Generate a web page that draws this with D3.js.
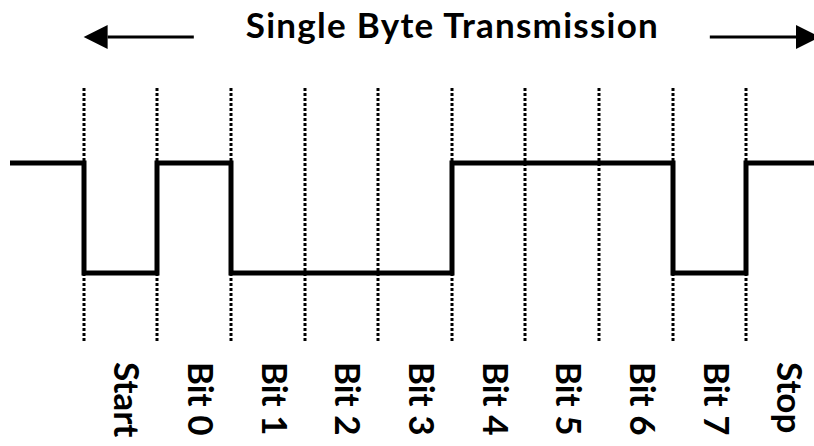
<!DOCTYPE html>
<html>
<head>
<meta charset="utf-8">
<script src="https://cdn.jsdelivr.net/npm/d3@7"></script>
<style>
  body { margin: 0; background: #fff; }
  text { font-family: Lato, "Open Sans", sans-serif; font-weight: bold; fill: #000; }
</style>
</head>
<body>
<div id="chart-area"></div>
<script>
const WIDTH = 814;
const HEIGHT = 446;

// one slot per bit time, in the order they go on the wire
const slotLabels = ["Start", "Bit 0", "Bit 1", "Bit 2", "Bit 3", "Bit 4", "Bit 5", "Bit 6", "Bit 7", "Stop"];
const slotLevels = [0, 1, 0, 0, 0, 1, 1, 1, 0, 1];
const idleLevel = 1;
const title = "Single Byte Transmission";

const svg = d3.select('#chart-area')
  .append('svg')
  .attr('width', WIDTH)
  .attr('height', HEIGHT);

// bit time -> pixels, one slot of idle line before the start bit
const x = d3.scaleLinear().domain([-1, slotLabels.length]).range([10, 820]);
const y = d3.scaleLinear().domain([0, 1]).range([273, 163]);

// dotted boundaries between slots
const bounds = d3.range(0, slotLabels.length + 1);
svg.append('g')
  .selectAll('line')
  .data(bounds)
  .enter()
  .append('line')
  .attr('x1', d => Math.round(x(d)))
  .attr('x2', d => Math.round(x(d)))
  .attr('y1', 88)
  .attr('y2', 342)
  .attr('stroke', '#000')
  .attr('stroke-width', 3)
  .attr('stroke-dasharray', '3,2');

// the waveform: idle, the ten slots, idle again
const wave = [{ t: -1, v: idleLevel }]
  .concat(slotLevels.map((v, i) => ({ t: i, v: v })))
  .concat([{ t: slotLabels.length, v: idleLevel }, { t: slotLabels.length + 1, v: idleLevel }]);

const line = d3.line()
  .x(d => Math.round(x(d.t)))
  .y(d => y(d.v))
  .curve(d3.curveStepAfter);

svg.append('path')
  .datum(wave)
  .attr('d', line)
  .attr('fill', 'none')
  .attr('stroke', '#000')
  .attr('stroke-width', 5)
  .attr('stroke-linejoin', 'miter')
  .attr('stroke-linecap', 'butt');

// rotated slot labels
svg.append('g')
  .selectAll('text')
  .data(slotLabels)
  .enter()
  .append('text')
  .attr('transform', (d, i) => `translate(${x(i + 0.5) - 6}, 362) rotate(90)`)
  .attr('font-size', '35px')
  .attr('text-anchor', 'start')
  .text(d => d);

// title + arrows spanning the whole byte
const titleText = svg.append('text')
  .attr('x', (x(0) + x(slotLabels.length)) / 2)
  .attr('y', 38)
  .attr('font-size', '35px')
  .attr('text-anchor', 'middle')
  .attr('textLength', 412)
  .attr('lengthAdjust', 'spacing')
  .text(title);

const box = titleText.node().getBBox();
const arrowY = 37;
const gap = 52;
const head = 24;
const halfHead = 12;

function arrow(tail, tip) {
  const dir = Math.sign(tip - tail);
  svg.append('line')
    .attr('x1', tail)
    .attr('x2', tip - dir * head)
    .attr('y1', arrowY)
    .attr('y2', arrowY)
    .attr('stroke', '#000')
    .attr('stroke-width', 3);
  svg.append('path')
    .attr('d', `M${tip},${arrowY} L${tip - dir * head},${arrowY - halfHead} L${tip - dir * head},${arrowY + halfHead} Z`)
    .attr('fill', '#000');
}

arrow(box.x - gap, x(0));
arrow(box.x + box.width + gap, x(slotLabels.length));
</script>
</body>
</html>
